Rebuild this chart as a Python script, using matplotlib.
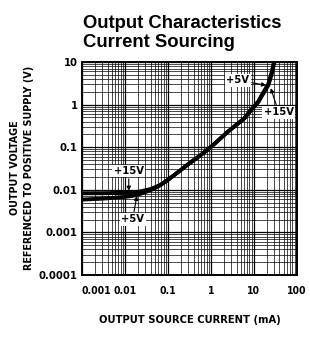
import numpy as np
import matplotlib
matplotlib.use("Agg")
import matplotlib.pyplot as plt
from matplotlib.ticker import LogLocator, NullFormatter, FixedLocator

# data
current_ma = [0.001, 0.003, 0.01, 0.015, 0.022, 0.04, 0.066, 0.1, 0.2, 0.3, 0.58, 1,
              2.5, 6, 8.8, 13, 15, 22, 26, 30.5]
vout_15v = [0.0083, 0.0083, 0.0085, 0.0087, 0.0091, 0.0104, 0.0129, 0.017, 0.029, 0.040, 0.065, 0.1,
            0.23, 0.47, 0.75, 1.16, 1.5, 2.85, 4.9, 10]
vout_5v = [0.0059, 0.0062, 0.0068, 0.0072, 0.0079, 0.0098, 0.0127, 0.017, 0.029, 0.040, 0.065, 0.1,
           0.23, 0.47, 0.76, 1.2, 1.58, 3.05, 5.4, 11]
xticks = [0.001, 0.01, 0.1, 1, 10, 100]
xlabels = ["0.001", "0.01", "0.1", "1", "10", "100"]
yticks = [0.0001, 0.001, 0.01, 0.1, 1, 10]
ylabels = ["0.0001", "0.001", "0.01", "0.1", "1", "10"]

FONT = dict(family="DejaVu Sans", fontstretch="condensed", fontweight="bold")

fig = plt.figure(figsize=(3.10, 3.39), dpi=100)
ax = fig.add_axes([0.2645, 0.1888, 0.692, 0.6283])

ax.set_xscale("log")
ax.set_yscale("log")
ax.set_xlim(0.001, 100)
ax.set_ylim(0.0001, 10)

ax.xaxis.set_major_locator(FixedLocator(xticks))
ax.yaxis.set_major_locator(FixedLocator(yticks))
ax.xaxis.set_minor_locator(LogLocator(base=10, subs=np.arange(2, 10), numticks=20))
ax.yaxis.set_minor_locator(LogLocator(base=10, subs=np.arange(2, 10), numticks=20))
ax.xaxis.set_minor_formatter(NullFormatter())
ax.yaxis.set_minor_formatter(NullFormatter())
ax.set_xticklabels(xlabels, fontsize=7.5, **FONT)
ax.set_yticklabels(ylabels, fontsize=8, **FONT)
# first x label sits right of the axis corner, clear of 0.0001
ax.get_xticklabels()[0].set_horizontalalignment("left")
ax.tick_params(which="both", length=0)
ax.tick_params(axis="x", pad=8)
ax.tick_params(axis="y", pad=3)

ax.grid(which="major", color="black", lw=0.9)
ax.grid(which="minor", color="black", lw=0.5)
for s in ax.spines.values():
    s.set_linewidth(1.4)

ax.plot(current_ma, vout_15v, color="black", lw=2.8, solid_capstyle="butt")
ax.plot(current_ma, vout_5v, color="black", lw=2.8, solid_capstyle="butt")

box = dict(boxstyle="square,pad=0.12", fc="white", ec="none")
arrow = dict(arrowstyle="-|>", color="black", lw=0.8, mutation_scale=6, shrinkA=1, shrinkB=0)
ax.annotate("+15V", xy=(0.0123, 0.0095), xytext=(0.0123, 0.0274), ha="center", va="center",
            fontsize=8, bbox=box, arrowprops=arrow, **FONT)
ax.annotate("+5V", xy=(0.019, 0.0072), xytext=(0.0152, 0.00204), ha="center", va="center",
            fontsize=8, bbox=box, arrowprops=arrow, **FONT)
ax.annotate("+5V", xy=(19.5, 2.85), xytext=(4.26, 3.74), ha="center", va="center",
            fontsize=8, bbox=box, arrowprops=arrow, **FONT)
ax.annotate("+15V", xy=(25, 2.43), xytext=(38.5, 0.66), ha="center", va="center",
            fontsize=8, bbox=box, arrowprops=arrow, **FONT)

fig.text(0.268, 0.861, "Output Characteristics\nCurrent Sourcing", fontsize=13.3,
         fontweight="bold", family="Liberation Sans", ha="left", va="baseline", linespacing=1.15)
fig.text(0.05, 0.505, "OUTPUT VOLTAGE", rotation=90, ha="center", va="center", fontsize=7.7, **FONT)
fig.text(0.092, 0.505, "REFERENCED TO POSITIVE SUPPLY (V)", rotation=90, ha="center", va="center",
         fontsize=7.7, **FONT)
fig.text(0.612, 0.056, "OUTPUT SOURCE CURRENT (mA)", ha="center", va="center", fontsize=8, **FONT)

fig.savefig("out.png", dpi=100)
